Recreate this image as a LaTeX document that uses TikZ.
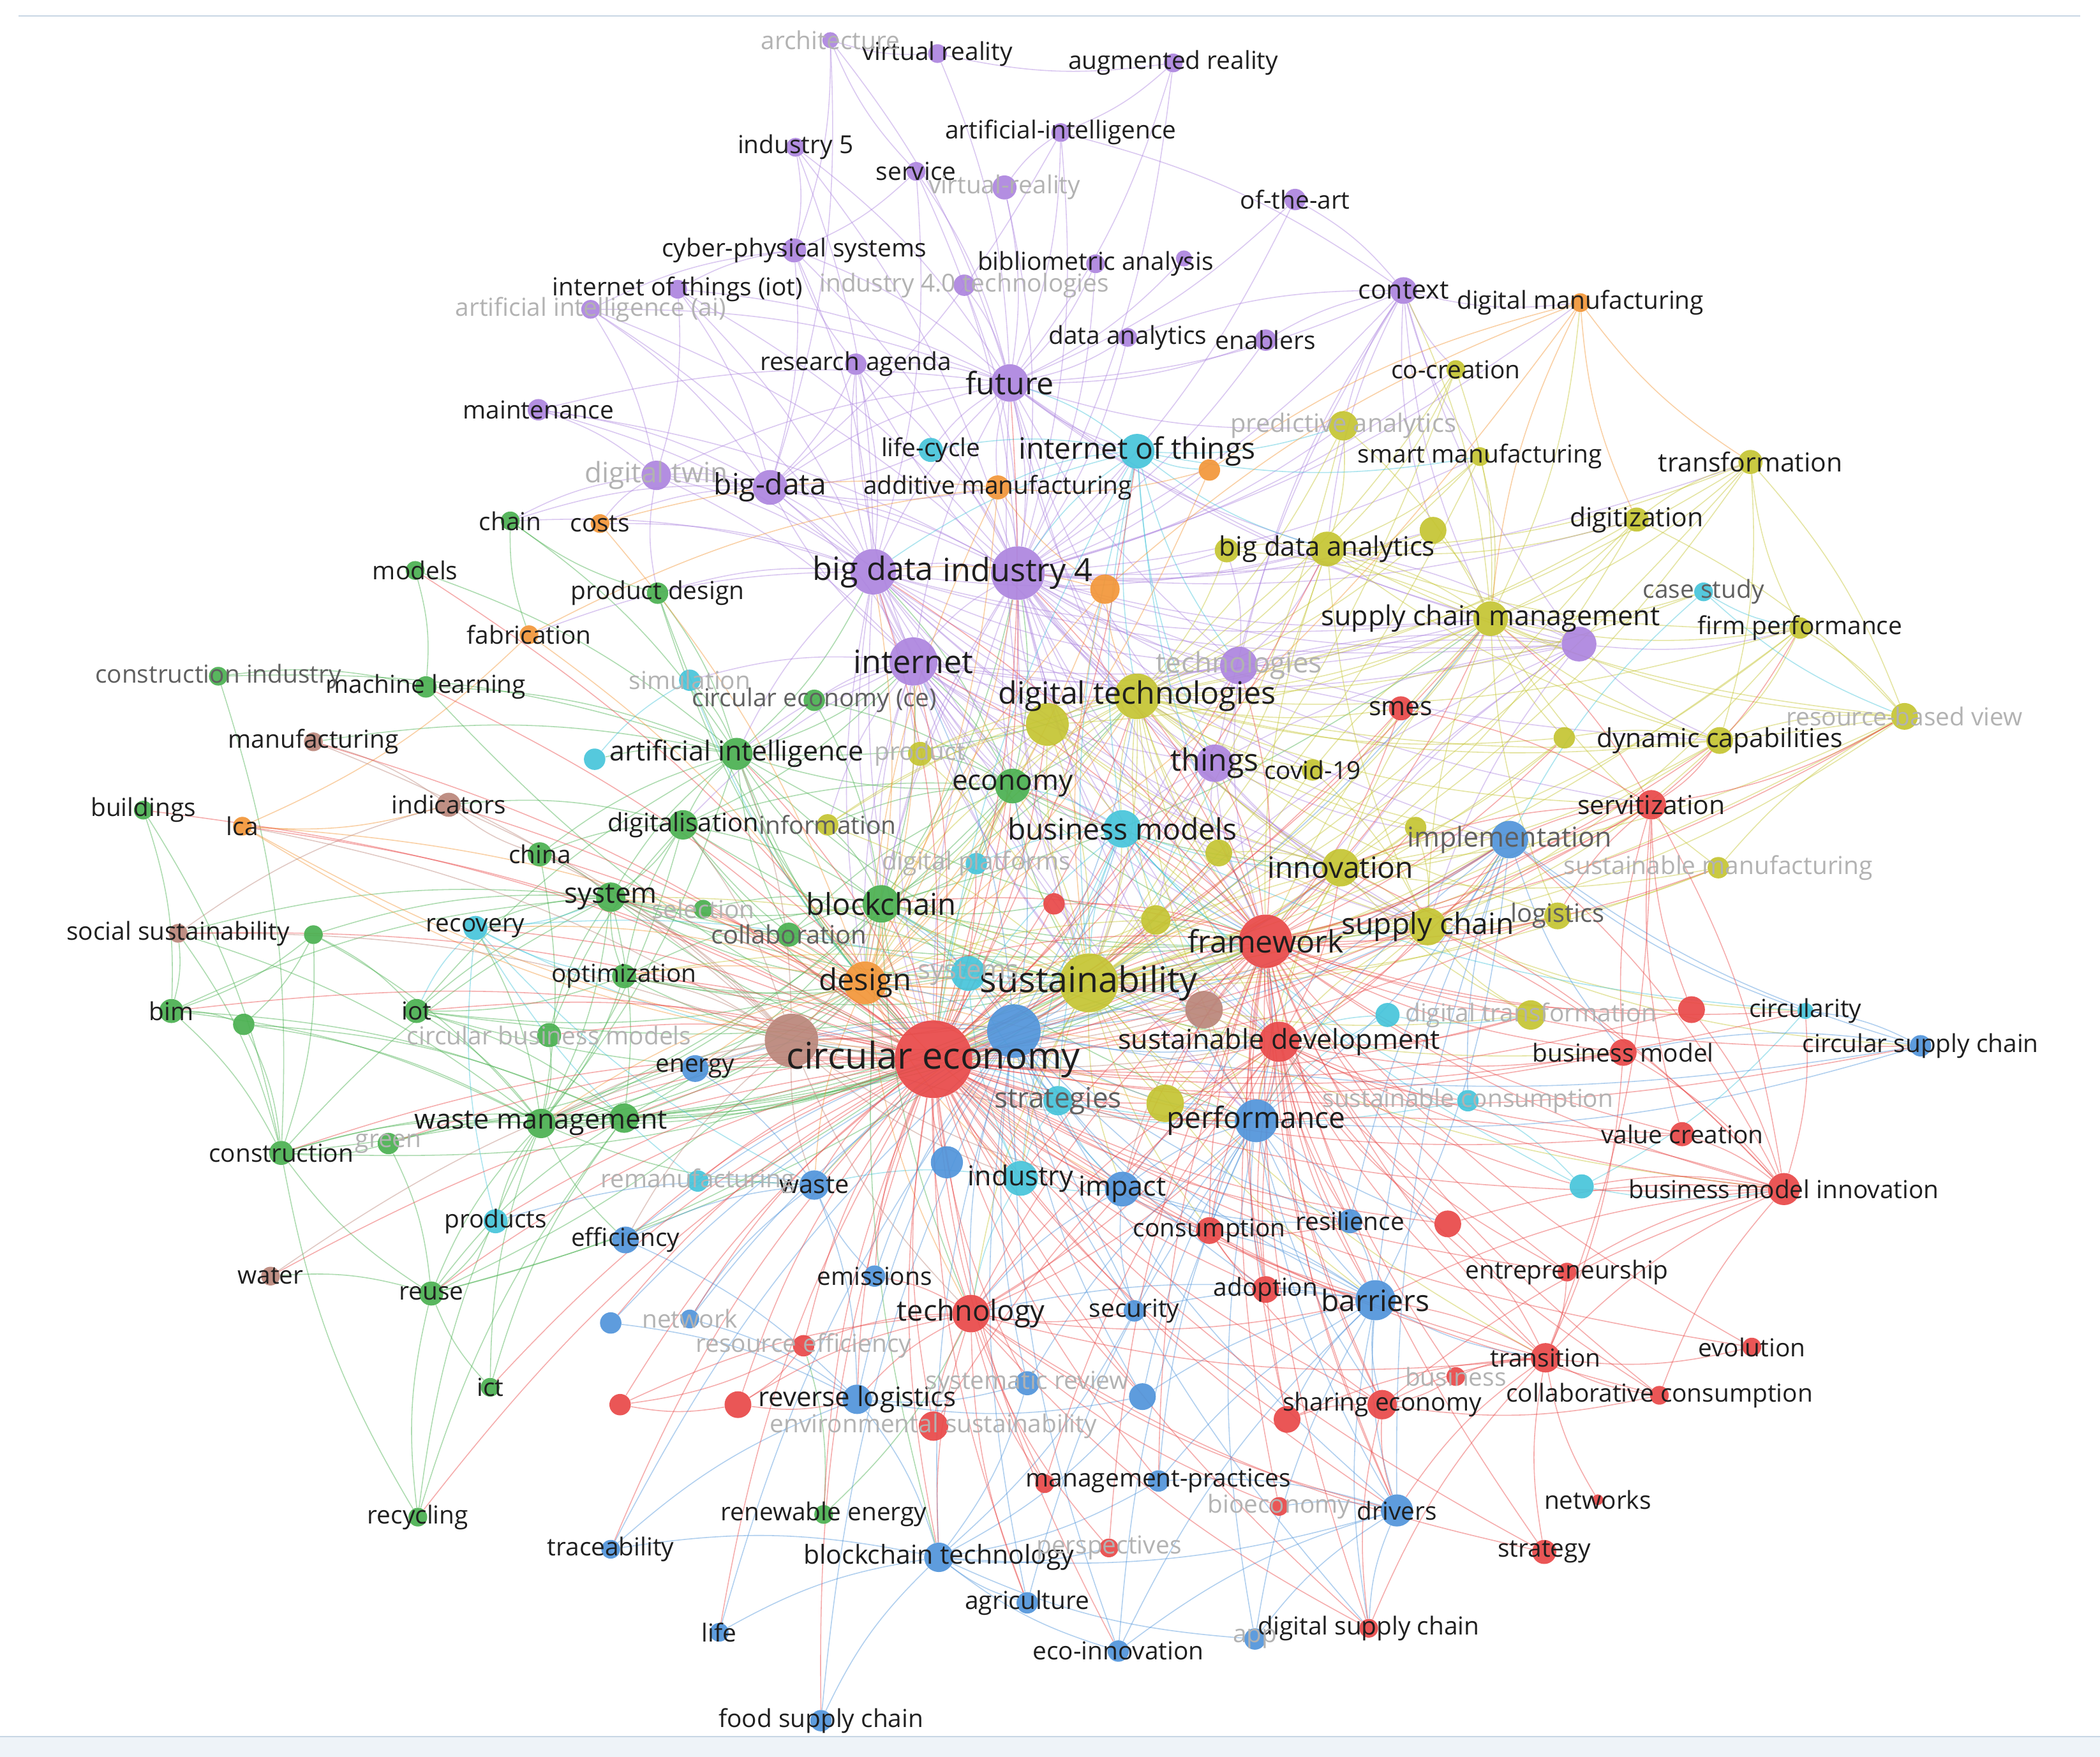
\documentclass[tikz,border=0pt]{standalone}
\usepackage{fontspec}
\setmainfont{Open Sans}
\usetikzlibrary{backgrounds}

\definecolor{cR}{RGB}{232,72,72}
\definecolor{cG}{RGB}{74,176,80}
\definecolor{cB}{RGB}{80,148,218}
\definecolor{cY}{RGB}{196,196,50}
\definecolor{cP}{RGB}{172,132,222}
\definecolor{cC}{RGB}{70,196,218}
\definecolor{cO}{RGB}{242,150,56}
\definecolor{cBr}{RGB}{186,134,122}
\definecolor{kwtext}{RGB}{30,30,30}
\definecolor{kwgray}{RGB}{95,95,95}
\definecolor{kwfade}{RGB}{178,178,178}
\definecolor{framec}{RGB}{200,214,228}
\definecolor{bandc}{RGB}{238,243,248}

\begin{document}
\begin{tikzpicture}[x=1pt,y=-1pt,
    kw node/.style={circle,inner sep=0pt,draw=none,fill opacity=0.92},
    kw label/.style={inner sep=0pt,text=kwtext},
    link/.style={line width=0.75pt,draw opacity=0.45}]
\useasboundingbox (0,0) rectangle (1568,1312);

% keyword circles
\foreach \nm/\x/\y/\r/\col in {
  arch/620/30/6/cP, vrA/700/40/7/cP, ar/876/47/7/cP, ifive/594/110/7/cP,
  aih/792/99/7/cP, svc/684/128/7/cP, vrB/750/140/9/cP, ofart/967/149/8/cP,
  cps/593/187/9/cP, biblio/818/197/7/cP, biblioB/884/193/6/cP, ifourt/720/213/8/cP,
  iotp/506/216/7/cP, aiai/441/231/7/cP, dataan/842/252/7/cP, enab/945/254/8/cP,
  ragenda/639/272/8/cP, future/754/286/14/cP, maint/402/306/8/cP, dtwin/490/355/11/cP,
  bigdash/575/364/13/cP, bigdata/652/427/17/cP, ifour/760/428/20/cP, inet/682/494/18/cP,
  techs/925/497/14/cP, things/907/570/14/cP, context/1048/217/10/cP, pX/1179/481/13/cP,
  lifec/695/336/9/cC, iotc/849/337/13/cC, casest/1272/442/7/cC, sim/515/508/8/cC,
  cXa/444/567/8/cC, bmods/838/619/14/cC, dplat/729/645/8/cC, systs/723/727/13/cC,
  recov/355/693/9/cC, strat/790/822/11/cC, remanu/521/882/8/cC, prods/370/912/9/cC,
  indus/762/880/13/cC, scons/1096/822/8/cC, cXb/1036/758/9/cC, circ/1348/755/6/cC,
  cXc/1181/886/9/cC,
  chain/381/389/7/cG, models/310/426/7/cG, pdesign/491/443/8/cG, cind/163/505/7/cG,
  ml/318/513/8/cG, ai/550/563/12/cG, bldg/107/605/7/cG, digit/510/616/11/cG,
  china/403/638/9/cG, econ/756/587/13/cG, system/456/670/11/cG, select/525/679/7/cG,
  bchain/658/675/14/cG, collab/589/698/9/cG, cece/608/523/8/cG, gXa/234/698/7/cG,
  opt/466/729/9/cG, iotg/311/755/9/cG, bim/128/755/9/cG, gXb/182/765/8/cG,
  cbm/410/773/9/cG, wm/404/839/11/cG, gXc/466/835/11/cG, constr/210/861/9/cG,
  green/290/854/8/cG, reuse/322/966/9/cG, ict/366/1036/7/cG, recyc/312/1133/7/cG,
  renew/615/1131/7/cG,
  manuf/234/554/7/cBr, indic/335/601/9/cBr, socs/133/697/7/cBr, water/202/953/7/cBr,
  brXa/591/777/20/cBr, brXb/899/754/14/cBr,
  dmanu/1180/226/7/cO, addm/745/364/9/cO, costs/448/391/7/cO, fabr/395/474/7/cO,
  lca/181/617/7/cO, oXa/903/351/8/cO, oXb/825/440/11/cO, design/646/734/16/cO,
  cocre/1087/276/7/cY, pred/1003/318/11/cY, smartm/1105/341/7/cY, transf/1307/345/9/cY,
  digiz/1222/388/9/cY, bda/991/410/13/cY, yXa/916/411/9/cY, yXb/1070/396/10/cY,
  scm/1113/462/13/cY, firmp/1344/469/8/cY, rbv/1422/535/10/cY, dtech/849/520/17/cY,
  yXc/782/541/16/cY, prodt/687/563/9/cY, info/618/616/8/cY, dcap/1284/553/10/cY,
  yXd/1168/551/8/cY, covid/980/575/8/cY, yXe/1057/618/8/cY, yXf/910/637/10/cY,
  innov/1001/648/14/cY, smanu/1283/648/8/cY, sc/1066/692/14/cY, logis/1163/684/10/cY,
  yXg/863/687/11/cY, sust/813/734/22/cY, yXh/870/824/14/cY, dtrans/1143/758/11/cY,
  smes/1046/529/9/cR, servz/1233/601/11/cR, rXa/787/675/8/cR, fw/945/703/20/cR,
  ce/697/791/29/cR, sd/955/778/15/cR, rXb/1263/754/10/cR, bmod/1212/786/10/cR,
  valc/1256/847/9/cR, bmi/1332/888/12/cR, rXc/1081/914/10/cR, cons/903/919/10/cR,
  entre/1170/950/7/cR, adopt/945/963/10/cR, tech/725/981/14/cR, reff/600/1005/8/cR,
  trans/1154/1014/11/cR, evol/1308/1006/7/cR, busi/1087/1028/7/cR, colc/1239/1042/7/cR,
  sharing/1032/1049/11/cR, rXd/961/1060/10/cR, rXe/463/1049/8/cR, rXf/551/1049/10/cR,
  envs/697/1065/11/cR, mprac/780/1108/7/cR, bioe/955/1125/7/cR, persp/828/1156/7/cR,
  strgy/1153/1159/9/cR, netw/1193/1120/4/cR, dsc/1022/1216/7/cR,
  impl/1127/627/14/cB, bXa/757/770/20/cB, energy/519/798/10/cB, perf/938/837/16/cB,
  impact/838/888/13/cB, bXb/707/868/12/cB, waste/608/885/11/cB, eff/467/926/10/cB,
  resil/1008/912/9/cB, barr/1027/971/15/cB, secur/847/979/8/cB, bXc/456/988/8/cB,
  network/515/985/7/cB, emis/653/953/8/cB, rlog/640/1045/11/cB, sysrev/767/1033/9/cB,
  bXd/853/1043/10/cB, drivers/1043/1128/12/cB, bct/701/1163/11/cB, trace/456/1157/7/cB,
  agri/767/1197/8/cB, life/537/1219/7/cB, ecoi/835/1233/8/cB, app/937/1224/8/cB,
  food/613/1285/8/cB, csc/1434/781/8/cB, mgmt/865/1106/8/cB}
  \node[kw node,fill=\col,minimum size=2*\r] (\nm) at (\x,\y) {};

% links, drawn under the circles
\begin{pgfonlayer}{background}
\fill[bandc] (0,1297) rectangle (1568,1312);
\draw[framec,line width=1pt] (0,1297) -- (1568,1297);
\draw[framec,line width=1pt] (14,12) -- (1553,12);
\foreach \src/\col/\dsts in {
  wm/cG/{gXc,constr,green,reuse,iotg,cbm,opt,system,bim,gXb,gXa,prods,eff,recyc,ict,ai,digit,china,energy,recov,ce,socs,waste,design,bchain,econ,sust,fw,bXa,brXa},
  gXc/cG/{constr,reuse,bim,gXb,iotg,green,ict,recyc,ce,bXa,sust,design,bchain,fw,system},
  ai/cG/{ml,models,chain,pdesign,digit,china,system,econ,bchain,cece,collab,sim,cXa,cind,manuf,iotg,inet,bigdata,ce,sust,design,dtech,fw},
  system/cG/{opt,recov,iotg,bim,socs,gXa,cbm,select,collab,china,digit,constr,ce,design,sust,bchain,fw},
  bchain/cG/{collab,select,econ,digit,opt,cece,dplat,info,rXa,sust,fw,ce,bct,sc,scm,dtech,inet,ifour,perf,sd,tech,design},
  econ/cG/{cece,digit,bmods,dplat,info,prodt,collab,sust,fw,ce,dtech,inet,ifour,bigdata,innov},
  constr/cG/{bim,gXb,green,reuse,recyc,cind,bldg,gXa,socs,ce,design},
  reuse/cG/{recyc,ict,water,green,prods,ce,design,sust},
  digit/cG/{china,cbm,opt,indic,ce,sust,design,inet},
  opt/cG/{design,ce,sust,systs}, iotg/cG/{gXa,opt,ce,design,sust},
  gXb/cG/{bim,gXa}, bim/cG/{gXa,socs,bldg},
  ml/cG/{models,cind,ce}, chain/cG/{fabr,pdesign}, pdesign/cG/{ce,design}, renew/cG/{reff,tech},
  ifour/cP/{future,bigdata,bigdash,inet,iotc,dtwin,cps,ragenda,maint,ifive,aih,context,enab,dataan,biblio,ofart,svc,things,techs,scm,bda,dtech,yXc,sust,fw,perf,design,bchain,econ,sc,impl,innov,smes,addm,lifec,pred,smartm,digiz,oXb,oXa,pX,iotp,aiai,ifourt,vrB,ar,yXa,yXb,covid,servz,dcap,transf,cocre,dmanu,ce,sd,bmods,yXg,yXf},
  future/cP/{arch,vrA,ar,ifive,aih,svc,vrB,ofart,cps,biblio,biblioB,ifourt,iotp,aiai,dataan,enab,ragenda,maint,dtwin,bigdash,bigdata,inet,context,things,techs,scm,pX,lifec,iotc,addm,pred,dtech,sust,fw,bda},
  bigdata/cP/{bigdash,dtwin,inet,cps,ragenda,maint,iotp,aiai,ifive,svc,things,techs,dtech,econ,ai,bchain,design,sust,fw,perf,pdesign,costs,chain,fabr,scm,bda,pX,ce,yXc,innov,sc,sd},
  inet/cP/{bigdash,dtwin,things,techs,dtech,bmods,econ,ai,cece,bchain,design,sust,fw,perf,scm,pX,sim,digit,info,prodt,ce,yXc,innov,sc,sd},
  bigdash/cP/{dtwin,maint,ragenda,cps,iotp,aiai,aih,arch,costs,chain,addm,lifec,inet,dtech},
  context/cP/{ofart,enab,cocre,dmanu,pred,smartm,scm,pX,bda,yXb,dataan,aih,techs,things},
  pX/cP/{scm,dcap,firmp,bda,things,techs,fw,sust,dtech,innov,sc},
  things/cP/{techs,dtech,covid,innov,sc,fw,sust,bmods,impl,yXf,yXg},
  techs/cP/{dtech,scm,bda,fw,sust,yXa,yXc},
  cps/cP/{ifive,arch,svc,iotp,aiai,ragenda},
  dtwin/cP/{maint,aiai,iotp,costs,chain,pdesign},
  ragenda/cP/{inet,bigdata,dtech},
  arch/cP/{vrA,svc}, aih/cP/{ar,vrB}, vrA/cP/{ar},
  sust/cY/{dtech,yXc,innov,sc,scm,bda,yXg,yXf,yXh,design,bchain,econ,perf,impact,dtrans,logis,smanu,dcap,yXd,yXe,covid,info,prodt,pred,smartm,digiz,transf,firmp,rbv,cocre,bmods,collab,opt,system,ce,fw,sd,tech,barr,impl,servz,smes,bmi,bmod,trans,strat,indus,waste,cons},
  dtech/cY/{yXc,innov,sc,scm,bda,pred,smartm,digiz,transf,firmp,rbv,dcap,covid,yXa,yXb,yXd,yXe,yXf,yXg,info,prodt,smes,servz,impl,bmods,econ,bchain,cocre,casest,logis,fw,ce,sd,perf,design},
  yXc/cY/{prodt,info,ce,innov,sc,scm,fw,sust,econ,bchain},
  scm/cY/{bda,yXb,yXa,pred,smartm,digiz,transf,firmp,rbv,dcap,yXd,casest,cocre,dmanu,sc,innov,logis,smanu,covid,context,pX,fw},
  sc/cY/{logis,dcap,smanu,rbv,dtrans,innov,impl,yXe,covid,firmp,csc,circ,fw,ce,perf,sd},
  innov/cY/{dcap,yXd,yXe,yXf,smanu,dtrans,rbv,firmp,transf,digiz,impl,ce,fw,sd,perf},
  bda/cY/{yXa,yXb,pred,smartm,digiz,transf,cocre,firmp,rbv,dcap,fw,sc},
  yXh/cY/{perf,fw,ce,sd},
  yXg/cY/{fw,ce,sd,design},
  rbv/cY/{firmp,dcap,transf,smanu,digiz},
  dcap/cY/{firmp,yXd,transf}, transf/cY/{digiz,firmp},
  iotc/cC/{lifec,addm,oXa,bigdata,ifour,future,dtech,sust,bmods,pred,smartm,techs,things,bda,fw,ce},
  bmods/cC/{sust,fw,innov,econ,dplat,strat,indus,scons,circ,cXc,ce,sd,perf},
  systs/cC/{design,sust,strat,indus,recov,ce,fw,bchain},
  recov/cC/{prods,opt,iotg,system,remanu,ce,waste},
  strat/cC/{indus,scons,impact,ce,perf}, indus/cC/{impact,waste,ce,tech}, cXc/cC/{bmi,scons,circ},
  casest/cC/{firmp,rbv,impl}, cXb/cC/{sd,dtrans,perf}, sim/cC/{cXa,ce},
  design/cO/{bXa,ce,brXa,sust,systs,lca,fabr,costs,addm,oXb,oXa,dmanu,recov,opt,sd,fw,perf,impact,indus,bchain,econ,inet,bigdata,ifour,dtech,innov,sc,tech,waste,energy,wm,system},
  lca/cO/{fabr,indic,brXa,ce}, addm/cO/{oXa,oXb,fabr,costs,design},
  dmanu/cO/{oXa,oXb,scm,transf,digiz}, oXb/cO/{bigdata,dtech,design,sust},
  brXa/cBr/{ce,indic,manuf,socs,water,brXb,sust,opt,wm,system,fw,sd,perf,design,bchain,tech,impact,indus,energy,waste,eff,lca,china,digit,ai},
  brXb/cBr/{sd,fw,perf,sust,ce,impact}, indic/cBr/{manuf,socs,china},
  bXa/cB/{perf,impact,indus,waste,eff,energy,barr,drivers,bct,rlog,strat,tech,impl,sust,fw,sd,cons,adopt,resil,secur,emis,sysrev,bXd,agri,ecoi,food,life,trace,network,bXc,csc,dsc,ce,bchain,econ,inet,dtech,innov,sc,scm,bmods,design,systs,brXa},
  perf/cB/{impact,barr,drivers,impl,resil,secur,adopt,cons,bXd,mgmt,app,ecoi,agri,sysrev,csc,yXh,rXc,sharing,sd,fw},
  barr/cB/{drivers,resil,adopt,secur,bXd,mgmt,app,dsc,ecoi,sharing,rXd,impact,impl,trans,tech,cons},
  bct/cB/{agri,food,life,trace,ecoi,sysrev,bXd,mgmt,rlog,secur,app,drivers,persp},
  impl/cB/{barr,drivers,csc,scons,circ,bmod,impact,resil,perf},
  rlog/cB/{sysrev,bXd,eff,network,bXc,waste,trace},
  waste/cB/{eff,energy,remanu,network,prods,emis},
  impact/cB/{cons,resil,tech,secur},
  csc/cB/{circ,bmod}, drivers/cB/{ecoi,app,dsc,mgmt,bioe},
  ce/cR/{bXa,brXa,design,sust,fw,sd,perf,impact,indus,bXb,waste,eff,energy,wm,gXc,strat,systs,bchain,collab,econ,inet,bigdata,ifour,dtech,yXc,bmods,innov,sc,scm,bda,tech,emis,barr,cons,adopt,resil,rlog,bct,drivers,sharing,trans,bmi,bmod,valc,servz,smes,impl,reuse,constr,recov,prods,remanu,opt,iotg,ai,digit,china,system,indic,lca,recyc,ict,envs,reff,mprac,mgmt,secur,network,cbm,green,iotc,future,things,techs,logis,dtrans,circ,csc,entre,evol,colc,strgy,dsc,agri,ecoi,food,life,trace,renew,water,socs,bim,bldg,rXc,rXd,rXe,rXf,sysrev,bXd,yXh,brXb,rXb,bXc,manuf,models,ml,rXa,yXg,yXf,select,dplat},
  fw/cR/{sust,sd,perf,innov,sc,scm,dtech,bmods,impl,servz,smes,bmod,bmi,valc,rXb,trans,sharing,barr,cons,adopt,resil,drivers,entre,colc,strgy,dsc,evol,busi,dtrans,logis,smanu,dcap,rbv,yXd,yXe,yXf,yXg,econ,bchain,design,inet,ifour,bigdata,techs,things,tech,rXc,circ,csc,mgmt,bioe,persp,rXd,impact,indus,brXb,yXh,bXa,rXa},
  sd/cR/{sust,perf,impact,barr,cons,bmi,bmod,trans,sharing,drivers,scons,cXc,rXc,valc,entre,colc,tech,innov,sc,impl,envs,rXd,mprac,adopt,resil,dtrans},
  bmi/cR/{bmod,valc,servz,rXb,trans,cXc,rXc,entre,innov,sc,impl,perf,barr,sharing,colc,circ},
  trans/cR/{evol,colc,busi,sharing,strgy,netw,dsc,entre,rXc,barr,drivers,rXd,bmod,servz},
  servz/cR/{bmod,dcap,impl,scm,smes,rXb,valc,sc,innov,logis,rbv,firmp},
  tech/cR/{reff,rXf,rXe,envs,rlog,mprac,persp,bioe,drivers,barr,secur,bct,emis,agri,dsc,strgy,trans,perf,impact,sd},
  cons/cR/{adopt,resil,barr,sharing},
  rXf/cR/{reff,rlog}, sharing/cR/{colc,busi,rXd,drivers,dsc}, rXe/cR/{rXf,reff}}
  \foreach \dst in \dsts
    \draw[link,draw=\col] (\src) to[bend right=10] (\dst);
\end{pgfonlayer}

% labels
\foreach \nm/\lbl/\sz in {
  vrA/virtual reality/18.5, ar/augmented reality/18.5, ifive/industry 5/18.5,
  aih/artificial-intelligence/18.5, svc/service/18.5, ofart/of-the-art/18.5,
  cps/cyber-physical systems/18.5, biblio/bibliometric analysis/18.5,
  iotp/internet of things (iot)/18.5, dataan/data analytics/18.5, enab/enablers/18.5,
  ragenda/research agenda/18.5, future/future/23, maint/maintenance/18.5,
  bigdash/big-data/22, bigdata/big data/24, ifour/industry 4/24, inet/internet/24,
  things/things/23, context/context/19.5, lifec/life-cycle/18.5,
  iotc/internet of things/22, bmods/business models/22, recov/recovery/18.5,
  prods/products/18.5, indus/industry/20.5, circ/circularity/18.5,
  chain/chain/18.5, models/models/18.5, pdesign/product design/18.5,
  ml/machine learning/18.5, ai/artificial intelligence/20.5, bldg/buildings/18.5,
  digit/digitalisation/19, china/china/18.5, econ/economy/21, system/system/21,
  bchain/blockchain/22.5, opt/optimization/18.5, iotg/iot/18.5, bim/bim/18.5,
  wm/waste management/20.5, constr/construction/18.5, reuse/reuse/18.5,
  ict/ict/18.5, recyc/recycling/18.5, renew/renewable energy/18.5,
  manuf/manufacturing/18.5, indic/indicators/18.5, socs/social sustainability/18.5,
  water/water/18.5, dmanu/digital manufacturing/18.5, addm/additive manufacturing/18.5,
  costs/costs/18.5, fabr/fabrication/18.5, lca/lca/18.5, design/design/22.5,
  cocre/co-creation/18.5, smartm/smart manufacturing/18.5, transf/transformation/19.5,
  digiz/digitization/19.5, bda/big data analytics/20, scm/supply chain management/20.5,
  firmp/firm performance/18.5, dtech/digital technologies/23,
  dcap/dynamic capabilities/19.5, covid/covid-19/18.5, innov/innovation/22,
  sc/supply chain/22, sust/sustainability/26.5, smes/smes/19.5,
  servz/servitization/19.5, fw/framework/23, ce/circular economy/27.5,
  sd/sustainable development/20.5, bmod/business model/18.5, valc/value creation/18.5,
  bmi/business model innovation/18.5, cons/consumption/18.5,
  entre/entrepreneurship/18.5, adopt/adoption/18.5, tech/technology/21.5,
  trans/transition/18.5, evol/evolution/18.5, colc/collaborative consumption/18.5,
  sharing/sharing economy/18.5, strgy/strategy/18.5, netw/networks/18.5,
  dsc/digital supply chain/18.5, energy/energy/18.5, perf/performance/22,
  impact/impact/20.5, waste/waste/19, eff/efficiency/18.5, resil/resilience/18.5,
  barr/barriers/22, secur/security/18.5, emis/emissions/18.5,
  rlog/reverse logistics/20, drivers/drivers/18.5, bct/blockchain technology/19.5,
  trace/traceability/18.5, agri/agriculture/18.5, life/life/18.5,
  ecoi/eco-innovation/18.5, food/food supply chain/18.5,
  csc/circular supply chain/18.5, mgmt/management-practices/18.5}
  \node[kw label,font=\fontsize{\sz}{\sz}\selectfont] (\nm-l) at (\nm) {\lbl};

\foreach \nm/\lbl/\sz in {
  cece/circular economy (ce)/18.5, collab/collaboration/19, strat/strategies/21,
  impl/implementation/20.5, logis/logistics/19, casest/case study/18.5,
  cind/construction industry/18.5, info/information/18.5}
  \node[kw label,text=kwgray,font=\fontsize{\sz}{\sz}\selectfont] (\nm-l) at (\nm) {\lbl};

\foreach \nm/\lbl/\sz in {
  arch/architecture/18.5, vrB/virtual-reality/18.5, ifourt/industry 4.0 technologies/18.5,
  aiai/artificial intelligence (ai)/18.5, dtwin/digital twin/21, techs/technologies/21,
  sim/simulation/18.5, dplat/digital platforms/18.5, systs/systems/20,
  select/selection/18.5, cbm/circular business models/18.5, green/green/18.5,
  remanu/remanufacturing/18.5, pred/predictive analytics/19, rbv/resource-based view/18.5,
  prodt/product/18.5, smanu/sustainable manufacturing/18.5,
  dtrans/digital transformation/18.5, scons/sustainable consumption/18.5,
  reff/resource efficiency/18.5, busi/business/18.5,
  envs/environmental sustainability/18.5, bioe/bioeconomy/18.5,
  persp/perspectives/18.5, network/network/18.5, sysrev/systematic review/18.5,
  app/app/18.5}
  \node[kw label,text=kwfade,font=\fontsize{\sz}{\sz}\selectfont] (\nm-l) at (\nm) {\lbl};
\end{tikzpicture}
\end{document}
